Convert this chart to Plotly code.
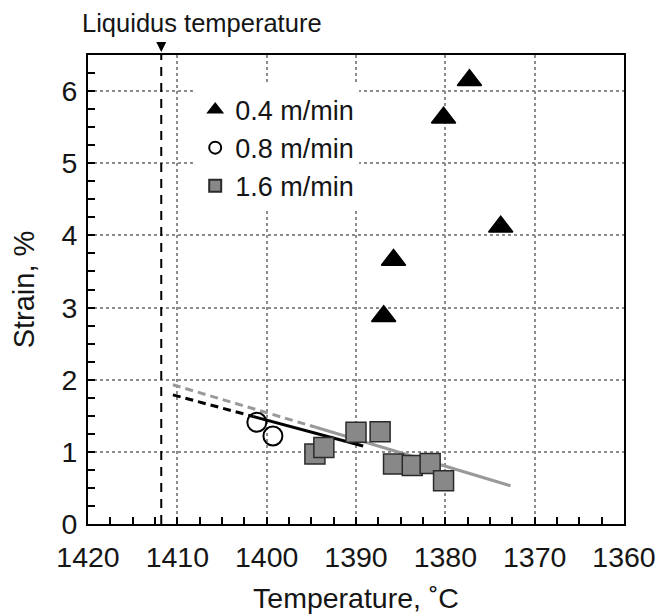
import plotly.graph_objects as go

# ---- data ----
tri_T = [1386.9, 1385.8, 1380.2, 1377.3, 1373.8]
tri_S = [2.88, 3.66, 5.63, 6.15, 4.12]

circ_T = [1401.1, 1399.3]
circ_S = [1.41, 1.22]

sq_T = [1394.6, 1393.6, 1390.0, 1387.3, 1385.8, 1383.7, 1381.7, 1380.2]
sq_S = [0.97, 1.06, 1.27, 1.28, 0.83, 0.81, 0.84, 0.60]

# fit lines (extrapolated part dashed)
gray_dash_T = [1410.5, 1394.5]
gray_dash_S = [1.93, 1.34]
gray_solid_T = [1394.5, 1372.7]
gray_solid_S = [1.34, 0.53]

black_dash_T = [1410.5, 1401.5]
black_dash_S = [1.79, 1.49]
black_solid_T = [1401.5, 1389.2]
black_solid_S = [1.49, 1.08]

liquidus_T = 1411.8
y_range = [0, 6.5]
x_range = [1420, 1360]

labels = ["0.4 m/min", "0.8 m/min", "1.6 m/min"]

FONT = "Liberation Sans, Arial, sans-serif"
TXT = "#151515"

fig = go.Figure()

# liquidus line
fig.add_trace(go.Scatter(x=[liquidus_T, liquidus_T], y=y_range, mode="lines",
                         line=dict(color="black", width=2, dash="9px,7px"),
                         showlegend=False, hoverinfo="skip"))

# fit lines
fig.add_trace(go.Scatter(x=gray_dash_T, y=gray_dash_S, mode="lines",
                         line=dict(color="#999999", width=3, dash="8px,5px"),
                         showlegend=False))
fig.add_trace(go.Scatter(x=gray_solid_T, y=gray_solid_S, mode="lines",
                         line=dict(color="#999999", width=3),
                         showlegend=False))
fig.add_trace(go.Scatter(x=black_dash_T, y=black_dash_S, mode="lines",
                         line=dict(color="black", width=3, dash="8px,5px"),
                         showlegend=False))
fig.add_trace(go.Scatter(x=black_solid_T, y=black_solid_S, mode="lines",
                         line=dict(color="black", width=3),
                         showlegend=False))

# markers
fig.add_trace(go.Scatter(x=tri_T, y=tri_S, mode="markers", name=labels[0],
                         marker=dict(symbol="triangle-up", size=21, color="black",
                                     line=dict(color="black", width=1.5))))
fig.add_trace(go.Scatter(x=circ_T, y=circ_S, mode="markers", name=labels[1],
                         marker=dict(symbol="circle-open", size=19, color="black",
                                     line=dict(color="black", width=2))))
fig.add_trace(go.Scatter(x=sq_T, y=sq_S, mode="markers", name=labels[2],
                         marker=dict(symbol="square", size=20, color="#888888",
                                     line=dict(color="#2a2a2a", width=1.5))))

axis_common = dict(
    showline=True, linecolor="black", linewidth=2, mirror=True,
    ticks="inside", ticklen=7, tickwidth=1.5, tickcolor="black",
    showgrid=True, gridcolor="#8c8c8c", gridwidth=1.5, griddash="dot",
    zeroline=False, automargin=False,
    tickfont=dict(family=FONT, size=28.5, color=TXT),
)

fig.update_xaxes(range=x_range, tick0=1360, dtick=10, ticklabelstandoff=7,
                 minor=dict(dtick=2.5, ticks="inside", ticklen=7, tickwidth=1.5,
                            tickcolor="black", showgrid=False),
                 title=dict(text="Temperature, ˚C", font=dict(family=FONT, size=28.5, color=TXT),
                            standoff=16),
                 **axis_common)
fig.update_yaxes(range=y_range, tick0=0, dtick=1, ticklabelstandoff=3,
                 minor=dict(dtick=0.25, ticks="inside", ticklen=7, tickwidth=1.5,
                            tickcolor="black", showgrid=False),
                 title=dict(text="Strain, %", font=dict(family=FONT, size=29, color=TXT),
                            standoff=18),
                 **axis_common)

# arrow marking liquidus temperature
fig.add_annotation(x=liquidus_T, y=1, xref="x", yref="paper", text="",
                   showarrow=True, ax=0, ay=-14, arrowhead=2, arrowsize=1,
                   arrowwidth=2, arrowcolor="black", standoff=3)
fig.add_annotation(x=liquidus_T, y=1, xref="x", yref="paper",
                   text="Liquidus temperature", showarrow=False,
                   xshift=41, yshift=32, yanchor="middle", xanchor="center",
                   font=dict(family=FONT, size=25.5, color=TXT))

fig.update_layout(
    width=672, height=614,
    margin=dict(l=88, r=48, t=55, b=90),
    plot_bgcolor="white", paper_bgcolor="white",
    font=dict(family=FONT, color=TXT),
    legend=dict(x=0.2, y=0.935, xanchor="left", yanchor="top",
                bgcolor="white", borderwidth=0,
                font=dict(family=FONT, size=27, color=TXT),
                itemsizing="constant", tracegroupgap=0),
)

fig.write_html("out.html")
